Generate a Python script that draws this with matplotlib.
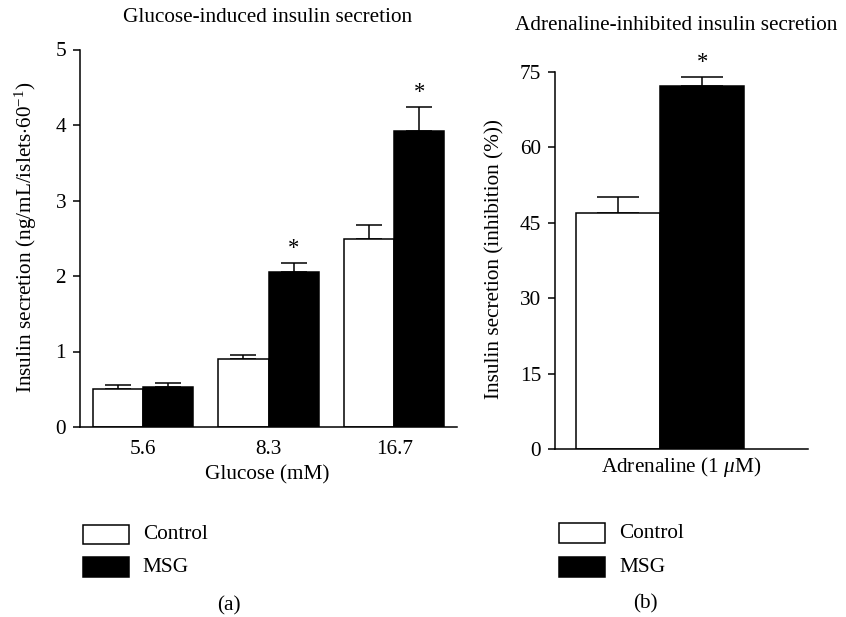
import matplotlib
matplotlib.use("Agg")
import matplotlib.pyplot as plt
from matplotlib.patches import Rectangle
import numpy as np

plt.rcParams['font.family'] = ['Liberation Serif', 'DejaVu Serif']
plt.rcParams['mathtext.fontset'] = 'custom'
plt.rcParams['mathtext.it'] = 'Liberation Serif:italic'
plt.rcParams['mathtext.rm'] = 'Liberation Serif'

# ---- data ----
glucose_labels = ["5.6", "8.3", "16.7"]
control_glucose = [0.50, 0.90, 2.49]
control_glucose_err = [0.06, 0.06, 0.18]
msg_glucose = [0.53, 2.05, 3.92]
msg_glucose_err = [0.05, 0.12, 0.32]
glucose_sig = [False, True, True]

adrenaline_label = "Adrenaline (1 $\\mathit{\\mu}$M)"
control_adr = 47.0
control_adr_err = 3.0
msg_adr = 72.2
msg_adr_err = 1.8
adr_sig = True

series_names = ["Control", "MSG"]

W, H = 846, 617
fig = plt.figure(figsize=(W / 100, H / 100), dpi=100)


def fx(x):
    return x / W


def fy(y):
    return 1 - y / H


FS = 15.3
LW = 1.1

# ---- panel (a) ----
ax1 = fig.add_axes([fx(80), fy(427), (457 - 80) / W, (427 - 49.5) / H])
x = np.arange(len(glucose_labels))
bw = 0.4
ax1.bar(x - bw / 2, control_glucose, bw, color='white', edgecolor='black', linewidth=LW, zorder=2)
ax1.bar(x + bw / 2, msg_glucose, bw, color='black', edgecolor='black', linewidth=LW, zorder=2)
ax1.errorbar(x - bw / 2, control_glucose, yerr=[np.zeros(3), control_glucose_err], fmt='none',
             ecolor='black', elinewidth=LW, capsize=9.4, capthick=LW, zorder=1)
ax1.errorbar(x + bw / 2, msg_glucose, yerr=[np.zeros(3), msg_glucose_err], fmt='none',
             ecolor='black', elinewidth=LW, capsize=9.4, capthick=LW, zorder=1)
for i, s in enumerate(glucose_sig):
    if s:
        ax1.annotate("*", (x[i] + bw / 2, msg_glucose[i] + msg_glucose_err[i]),
                     xytext=(0, 3), textcoords='offset points', ha='center', va='bottom', fontsize=FS + 1)
ax1.set_xlim(-0.5, 2.5)
ax1.set_ylim(0, 5)
ax1.set_yticks([0, 1, 2, 3, 4, 5])
ax1.set_xticks(x)
ax1.set_xticklabels(glucose_labels)

# ---- panel (b) ----
ax2 = fig.add_axes([fx(555), fy(449), (808 - 555) / W, (449 - 71.7) / H])
ax2.bar([-0.5], [control_adr], 1.0, color='white', edgecolor='black', linewidth=LW, zorder=2)
ax2.bar([0.5], [msg_adr], 1.0, color='black', edgecolor='black', linewidth=LW, zorder=2)
ax2.errorbar([-0.5], [control_adr], yerr=[[0], [control_adr_err]], fmt='none', ecolor='black',
             elinewidth=LW, capsize=15, capthick=LW, zorder=1)
ax2.errorbar([0.5], [msg_adr], yerr=[[0], [msg_adr_err]], fmt='none', ecolor='black',
             elinewidth=LW, capsize=15, capthick=LW, zorder=1)
if adr_sig:
    ax2.annotate("*", (0.5, msg_adr + msg_adr_err), xytext=(0, 3), textcoords='offset points',
                 ha='center', va='bottom', fontsize=FS + 1)
ax2.set_xlim(-1.25, 1.76)
ax2.set_ylim(0, 75)
ax2.set_yticks([0, 15, 30, 45, 60, 75])
ax2.set_xticks([])

for ax in (ax1, ax2):
    ax.spines['top'].set_visible(False)
    ax.spines['right'].set_visible(False)
    ax.spines['left'].set_linewidth(LW)
    ax.spines['bottom'].set_linewidth(LW)
    ax.tick_params(axis='y', direction='out', length=5, width=LW, pad=5, labelsize=FS)
    ax.tick_params(axis='x', length=0, pad=9, labelsize=FS)

# ---- texts ----
fig.text(fx(268), fy(18), "Glucose-induced insulin secretion", ha='center', va='center', fontsize=FS)
fig.text(fx(676), fy(25), "Adrenaline-inhibited insulin secretion", ha='center', va='center', fontsize=FS)
fig.text(fx(26), fy(237), "Insulin secretion (ng/mL/islets$\\cdot$60$^{-1}$)", rotation=90,
         ha='center', va='center', fontsize=FS)
fig.text(fx(495), fy(259), "Insulin secretion (inhibition (%))", rotation=90,
         ha='center', va='center', fontsize=FS)
fig.text(fx(267), fy(475), "Glucose (mM)", ha='center', va='center', fontsize=FS)
fig.text(fx(681), fy(467), adrenaline_label, ha='center', va='center', fontsize=FS)

# ---- legends ----
def legend_box(x0, y0, x1, y1, face):
    fig.add_artist(Rectangle((fx(x0), fy(y1)), fx(x1) - fx(x0), fy(y0) - fy(y1),
                             transform=fig.transFigure, facecolor=face, edgecolor='black', linewidth=LW))


legend_box(83.3, 525, 129.3, 544.3, 'white')
legend_box(83.3, 557.3, 129.3, 576.7, 'black')
fig.text(fx(142.7), fy(534.5), series_names[0], ha='left', va='center', fontsize=FS)
fig.text(fx(142.7), fy(567), series_names[1], ha='left', va='center', fontsize=FS)

legend_box(559, 523.3, 605, 542.7, 'white')
legend_box(559, 557.3, 605, 576.7, 'black')
fig.text(fx(619), fy(533), series_names[0], ha='left', va='center', fontsize=FS)
fig.text(fx(619), fy(567), series_names[1], ha='left', va='center', fontsize=FS)

fig.text(fx(229), fy(606), "(a)", ha='center', va='center', fontsize=FS)
fig.text(fx(645), fy(604), "(b)", ha='center', va='center', fontsize=FS)

fig.savefig("out.png", dpi=100)
